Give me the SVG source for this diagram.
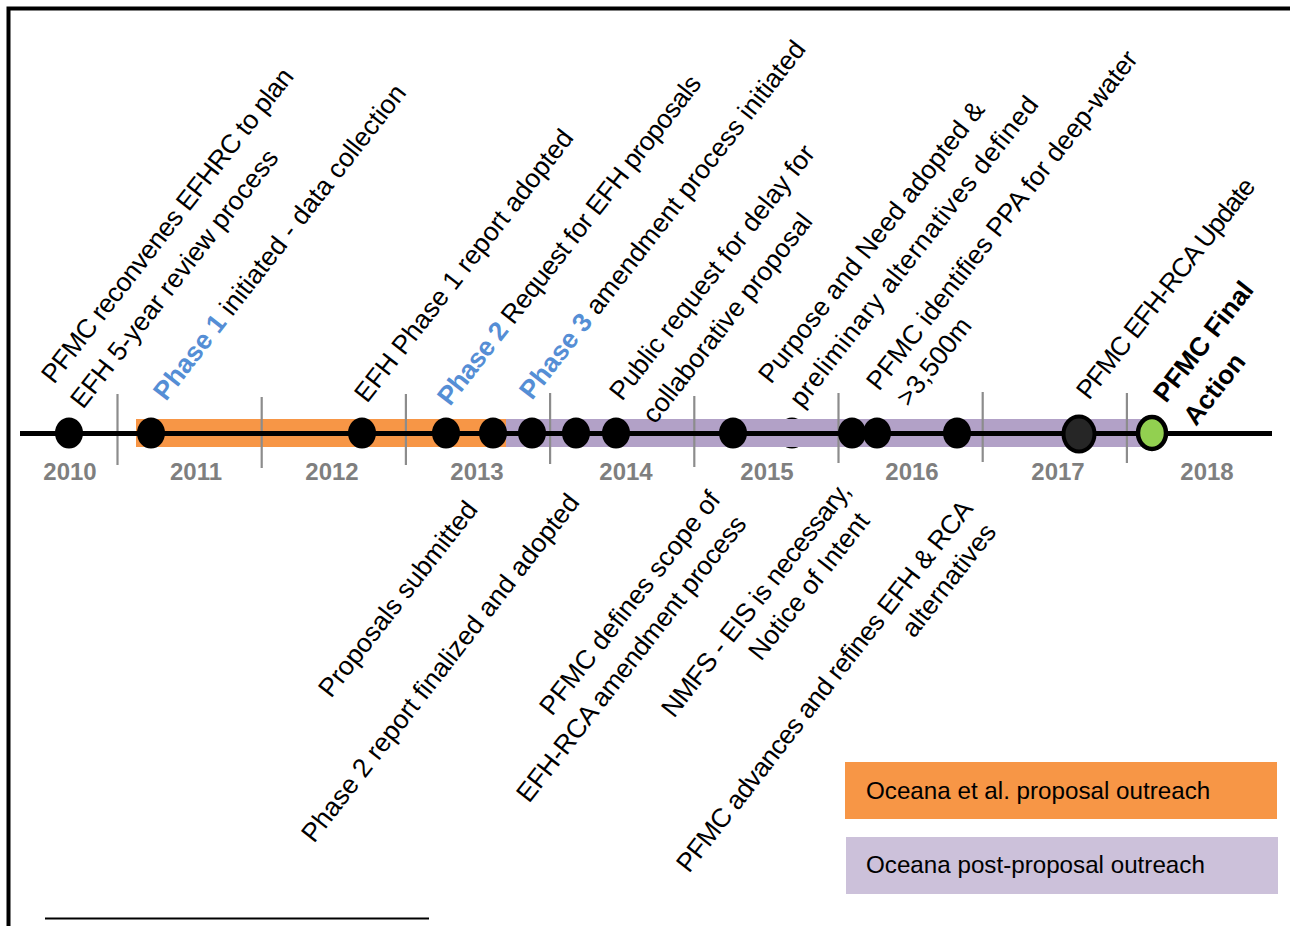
<svg xmlns="http://www.w3.org/2000/svg" width="1290" height="926" viewBox="0 0 1290 926">
<defs>
<filter id="sh" x="-5%" y="-200%" width="110%" height="500%"><feGaussianBlur stdDeviation="2.5"/></filter>
<style>
.lbl{font-family:"Liberation Sans",Arial,sans-serif;font-size:26.5px;fill:#000}
.ph{font-weight:bold;fill:#558ed5}
.bold{font-weight:bold}
.yr{font-family:"Liberation Sans",Arial,sans-serif;font-size:24px;font-weight:bold;fill:#7f7f7f;text-anchor:middle}
.tick{stroke:#8c8c8c;stroke-width:2.2}
.dot{fill:#000}
.leg{font-family:"Liberation Sans",Arial,sans-serif;font-size:24.2px;fill:#000}
</style>
</defs>
<rect width="1290" height="926" fill="#fff"/>
<path d="M8.5,926 V8.5 H1290" fill="none" stroke="#000" stroke-width="4"/>
<line x1="45" y1="918.5" x2="429" y2="918.5" stroke="#000" stroke-width="2"/>

<g id="periods">
<ellipse id="hidden-event" cx="792" cy="433" rx="14" ry="15.5" fill="#000"/>
<rect id="band-orange" x="136" y="419" width="370" height="28" fill="#f79646"/>
<rect id="band-purple" x="506" y="419" width="638" height="28" fill="#b2a1c7"/>
</g>

<g id="ticks">
<line class="tick" x1="117.5" y1="394" x2="117.5" y2="465"/>
<line class="tick" x1="261.7" y1="397" x2="261.7" y2="468"/>
<line class="tick" x1="405.9" y1="394" x2="405.9" y2="465"/>
<line class="tick" x1="550.1" y1="393" x2="550.1" y2="464"/>
<line class="tick" x1="694.3" y1="396" x2="694.3" y2="467"/>
<line class="tick" x1="838.5" y1="393" x2="838.5" y2="463"/>
<line class="tick" x1="982.7" y1="392" x2="982.7" y2="462"/>
<line class="tick" x1="1126.9" y1="393" x2="1126.9" y2="463"/>
</g>

<g id="connectors">
<line x1="22" y1="437" x2="1274" y2="437" stroke="#000" stroke-opacity="0.45" stroke-width="5" filter="url(#sh)"/>
<line x1="20" y1="433.5" x2="1272" y2="433.5" stroke="#000" stroke-width="5"/>
</g>

<g id="years">
<text class="yr" x="70" y="480">2010</text>
<text class="yr" x="196" y="480">2011</text>
<text class="yr" x="332" y="480">2012</text>
<text class="yr" x="477" y="480">2013</text>
<text class="yr" x="626" y="480">2014</text>
<text class="yr" x="767" y="480">2015</text>
<text class="yr" x="912" y="480">2016</text>
<text class="yr" x="1058" y="480">2017</text>
<text class="yr" x="1207" y="480">2018</text>
</g>

<g id="events">
<ellipse class="dot" cx="69" cy="433" rx="14" ry="15.5"/>
<ellipse class="dot" cx="151" cy="433" rx="14" ry="15.5"/>
<ellipse class="dot" cx="362" cy="433" rx="14" ry="15.5"/>
<ellipse class="dot" cx="446" cy="433" rx="14" ry="15.5"/>
<ellipse class="dot" cx="493" cy="433" rx="14" ry="15.5"/>
<ellipse class="dot" cx="532" cy="433" rx="14" ry="15.5"/>
<ellipse class="dot" cx="576" cy="433" rx="14" ry="15.5"/>
<ellipse class="dot" cx="616" cy="433" rx="14" ry="15.5"/>
<ellipse class="dot" cx="733" cy="433" rx="14" ry="15.5"/>
<ellipse class="dot" cx="852" cy="433" rx="14" ry="15.5"/>
<ellipse class="dot" cx="877" cy="433" rx="14" ry="15.5"/>
<ellipse class="dot" cx="957" cy="433" rx="14" ry="15.5"/>
<ellipse cx="1079" cy="434" rx="15.5" ry="17.5" fill="#262626" stroke="#000" stroke-width="4"/>
<ellipse cx="1152" cy="433" rx="14" ry="16" fill="#92d050" stroke="#000" stroke-width="4.5"/>
</g>

<g id="labels-above">
<text class="lbl" transform="translate(54,385) rotate(-52)" textLength="391">PFMC reconvenes EFHRC to plan</text>
<text class="lbl" transform="translate(83,410) rotate(-52)">EFH 5-year review process</text>
<text class="lbl" transform="translate(166,402) rotate(-52)"><tspan class="ph">Phase 1</tspan> initiated - data collection</text>
<text class="lbl" transform="translate(367,404) rotate(-52)">EFH Phase 1 report adopted</text>
<text class="lbl" transform="translate(450,407) rotate(-52)" textLength="410"><tspan class="ph">Phase 2</tspan> Request for EFH proposals</text>
<text class="lbl" transform="translate(532,401) rotate(-52)"><tspan class="ph">Phase 3</tspan> amendment process initiated</text>
<text class="lbl" transform="translate(622,402) rotate(-52)">Public request for delay for</text>
<text class="lbl" transform="translate(655,425) rotate(-52)">collaborative proposal</text>
<text class="lbl" transform="translate(771,385) rotate(-52)">Purpose and Need adopted &amp;</text>
<text class="lbl" transform="translate(802,409) rotate(-52)" textLength="386">preliminary alternatives defined</text>
<text class="lbl" transform="translate(879,392) rotate(-52)">PFMC identifies PPA for deep-water</text>
<text class="lbl" transform="translate(909,408) rotate(-52)">&gt;3,500m</text>
<text class="lbl" transform="translate(1089,401) rotate(-52)" textLength="272">PFMC EFH-RCA Update</text>
<text class="lbl bold" transform="translate(1166,404) rotate(-52)">PFMC Final</text>
<text class="lbl bold" transform="translate(1196,427) rotate(-52)">Action</text>
</g>

<g id="labels-below">
<text class="lbl" transform="translate(331,699) rotate(-52)">Proposals submitted</text>
<text class="lbl" transform="translate(314,844) rotate(-52)">Phase 2 report finalized and adopted</text>
<text class="lbl" transform="translate(552,717) rotate(-52)">PFMC defines scope of</text>
<text class="lbl" transform="translate(529,804) rotate(-52)" textLength="355">EFH-RCA amendment process</text>
<text class="lbl" transform="translate(674,719) rotate(-52)" textLength="289">NMFS - EIS is necessary,</text>
<text class="lbl" transform="translate(761,662) rotate(-52)">Notice of Intent</text>
<text class="lbl" transform="translate(689,874) rotate(-52)" textLength="463">PFMC advances and refines EFH &amp; RCA</text>
<text class="lbl" transform="translate(914,639) rotate(-52)">alternatives</text>
</g>

<g id="legend">
<g id="legend-orange">
<rect x="845" y="762" width="432" height="57" fill="#f79646"/>
<text class="leg" x="866" y="799">Oceana et al. proposal outreach</text>
</g>
<g id="legend-purple">
<rect x="846" y="837" width="432" height="57" fill="#ccc1da"/>
<text class="leg" x="866" y="873">Oceana post-proposal outreach</text>
</g>
</g>
</svg>
